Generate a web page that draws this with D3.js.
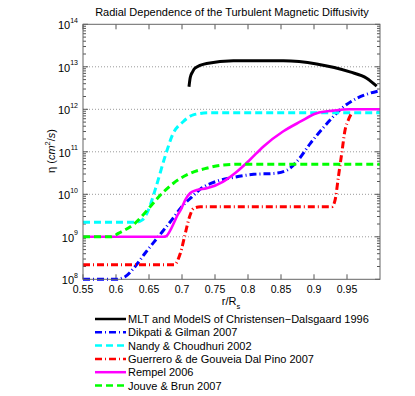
<!DOCTYPE html>
<html><head><meta charset="utf-8">
<script src="https://cdn.jsdelivr.net/npm/d3@7"></script>
<style>body{margin:0;background:#fff}svg{display:block;font-family:"Liberation Sans",Arial,sans-serif}</style>
</head><body><svg id="c" width="415" height="396"></svg>
<script>
// ---- data ----
const title = "Radial Dependence of the Turbulent Magnetic Diffusivity";
const xTicks = [0.55,0.6,0.65,0.7,0.75,0.8,0.85,0.9,0.95];
const yExponents = [8,9,10,11,12,13,14];
const legendLabels = ["MLT and ModelS of Christensen\u2212Dalsgaard 1996","Dikpati & Gilman 2007","Nandy & Choudhuri 2002","Guerrero & de Gouveia Dal Pino 2007","Rempel 2006","Jouve & Brun 2007"];

const mltR   = [0.7106,0.7125,0.716,0.7197,0.7374,0.7777,0.8535,0.904,0.9545,0.9798,0.995];
const mltEta = [3.4e12,5.6e12,7.6e12,9.3e12,1.2e13,1.38e13,1.38e13,1.17e13,7.6e12,5.4e12,3.5e12];

const dgR   = [0.55,0.60,0.6137,0.629,0.644,0.664,0.6845,0.6997,0.715,0.7277,0.753,0.778,0.8085,0.839,0.859,0.874,0.8945,0.92,0.945,0.965,0.985,1.0];
const dgEta = [1e8,1e8,1.15e8,2e8,4.1e8,1e9,2.5e9,5.1e9,8.7e9,1.32e10,2.04e10,2.5e10,2.95e10,3.1e10,3.7e10,5.9e10,1.58e11,4.7e11,1.15e12,1.82e12,2.4e12,2.75e12];

const ncR   = [0.55,0.63,0.64,0.648,0.66,0.6745,0.6866,0.7017,0.717,0.742,1.0];
const ncEta = [2.2e9,2.2e9,2.5e9,3.9e9,1.38e10,7.9e10,2.7e11,5.1e11,7.4e11,8.3e11,8.3e11];

const ggR   = [0.55,0.688,0.6975,0.705,0.71,0.718,0.728,0.927,0.932,0.937,0.942,0.947,0.952,0.957];
const ggEta = [2.2e8,2.2e8,4.1e8,1.2e9,2.5e9,4.7e9,5.1e9,5.1e9,7.4e9,2.6e10,9.1e10,3.2e11,5.6e11,8.1e11];

const rpR   = [0.55,0.672,0.676,0.682,0.6945,0.698,0.705,0.7125,0.7225,0.7375,0.7625,0.783,0.803,0.823,0.853,0.879,0.904,0.929,0.954,1.0];
const rpEta = [1e9,1e9,1.03e9,1.4e9,3.5e9,4.3e9,7.4e9,1.07e10,1.26e10,1.38e10,2e10,3.4e10,6.5e10,1.32e11,3.0e11,5.1e11,8.1e11,9.3e11,1e12,1e12];

const jbR   = [0.55,0.593,0.6035,0.629,0.654,0.667,0.687,0.712,0.737,0.763,0.788,1.0];
const jbEta = [1e9,1e9,1.2e9,2.1e9,5.6e9,9.5e9,1.82e10,3.1e10,4.1e10,4.9e10,5.1e10,5.1e10];

// ---- layout ----
const svg = d3.select("#c");
const L=83, R=380, T=24.3, B=279.3;
const x = d3.scaleLinear().domain([0.55,1.0]).range([L,R]);
const y = d3.scaleLog().domain([1e8,1e14]).range([B,T]);

// grid
const gridVals = yExponents.slice(1,-1).map(e=>Math.pow(10,e));
svg.append("g").selectAll("line").data(gridVals).join("line")
  .attr("x1",L).attr("x2",R).attr("y1",d=>y(d)).attr("y2",d=>y(d))
  .attr("stroke","#999").attr("stroke-width",1).attr("stroke-dasharray","1,2");

// minor ticks
const minor=[];
for(let e=8;e<14;e++) for(let k=2;k<10;k++) minor.push(k*Math.pow(10,e));
const tickCol="#555";
const tg = svg.append("g").attr("stroke",tickCol).attr("stroke-width",1);
minor.forEach(v=>{
  tg.append("line").attr("x1",L).attr("x2",L+3).attr("y1",y(v)).attr("y2",y(v));
  tg.append("line").attr("x1",R).attr("x2",R-3).attr("y1",y(v)).attr("y2",y(v));
});
yExponents.forEach(e=>{const v=Math.pow(10,e);
  tg.append("line").attr("x1",L).attr("x2",L+5).attr("y1",y(v)).attr("y2",y(v));
  tg.append("line").attr("x1",R).attr("x2",R-5).attr("y1",y(v)).attr("y2",y(v));
});
xTicks.forEach(t=>{
  tg.append("line").attr("x1",x(t)).attr("x2",x(t)).attr("y1",B).attr("y2",B-5);
  tg.append("line").attr("x1",x(t)).attr("x2",x(t)).attr("y1",T).attr("y2",T+5);
});

// series
const line = d3.line().x(d=>x(d[0])).y(d=>y(d[1])).curve(d3.curveMonotoneX);
const zipS=(a,b)=>a.map((v,i)=>[v,b[i]]);
const series = [
  {r:mltR,e:mltEta,c:"#000000",w:3,dash:null},
  {r:dgR,e:dgEta,c:"#0000ff",w:3,dash:"7,3,1,3"},
  {r:ncR,e:ncEta,c:"#00ffff",w:3,dash:"7,4"},
  {r:ggR,e:ggEta,c:"#ff0000",w:3,dash:"7,3,1,3"},
  {r:rpR,e:rpEta,c:"#ff00ff",w:2.6,dash:null},
  {r:jbR,e:jbEta,c:"#00ff00",w:3,dash:"7,4"}
];
const plot = svg.append("g");
series.forEach(s=>{
  plot.append("path").datum(zipS(s.r,s.e)).attr("d",line)
    .attr("fill","none").attr("stroke",s.c).attr("stroke-width",s.w)
    .attr("stroke-dasharray",s.dash).attr("stroke-linejoin","round");
});

// frame
svg.append("rect").attr("x",L).attr("y",T).attr("width",R-L).attr("height",B-T)
  .attr("fill","none").attr("stroke","#666").attr("stroke-width",1);

// tick labels
svg.append("g").selectAll("text").data(xTicks).join("text")
  .attr("x",d=>x(d)).attr("y",B+14).attr("text-anchor","middle")
  .attr("font-size",10.5).attr("fill","#000").text(d=>d3.format("")(d));
const yl = svg.append("g").selectAll("text").data(yExponents).join("text")
  .attr("x",78).attr("y",d=>y(Math.pow(10,d))+5).attr("text-anchor","end").attr("fill","#000");
yl.append("tspan").attr("font-size",11).text("10");
yl.append("tspan").attr("font-size",7).attr("dy",-6.5).text(d=>d);

// title
svg.append("text").attr("x",232).attr("y",16).attr("text-anchor","middle")
  .attr("font-size",11).text(title);

// x label
const xl = svg.append("text").attr("x",231).attr("y",305).attr("text-anchor","middle").attr("font-size",11);
xl.append("tspan").text("r/R");
xl.append("tspan").attr("font-size",7.5).attr("dy",4).text("s");

// y label
const ylab = svg.append("text").attr("transform","translate(55,151) rotate(-90)")
  .attr("text-anchor","middle").attr("font-size",11);
ylab.append("tspan").text("\u03b7 (");
ylab.append("tspan").attr("font-style","italic").text("cm");
ylab.append("tspan").attr("font-size",7.5).attr("dy",-5).text("2");
ylab.append("tspan").attr("dy",5).text("/");
ylab.append("tspan").attr("font-style","italic").text("s");
ylab.append("tspan").text(")");

// legend
const lg = svg.append("g");
series.forEach((s,i)=>{
  const yy = 319 + i*13.3;
  lg.append("line").attr("x1",95).attr("x2",126).attr("y1",yy).attr("y2",yy)
    .attr("stroke",s.c).attr("stroke-width",2.5).attr("stroke-dasharray",s.dash);
  lg.append("text").attr("x",128).attr("y",yy+4).attr("font-size",11).text(legendLabels[i]);
});
</script></body></html>
